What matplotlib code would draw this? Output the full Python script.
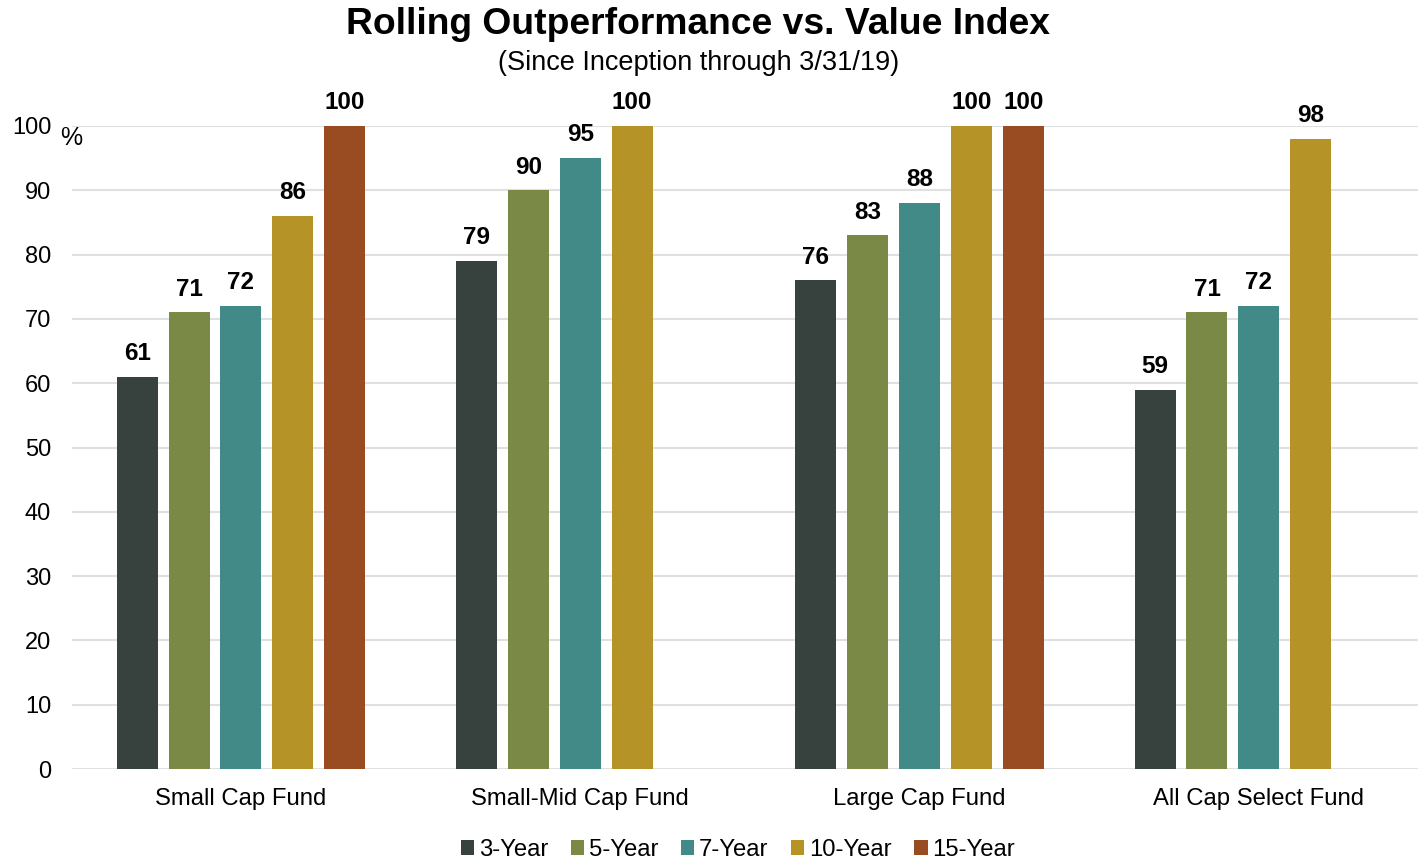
import numpy as np
import matplotlib.pyplot as plt

plt.rcParams['font.family'] = ['Liberation Sans', 'DejaVu Sans']

funds = ["Small Cap Fund", "Small-Mid Cap Fund", "Large Cap Fund", "All Cap Select Fund"]
periods = ["3-Year", "5-Year", "7-Year", "10-Year", "15-Year"]
values = {
    "3-Year": [61, 79, 76, 59],
    "5-Year": [71, 90, 83, 71],
    "7-Year": [72, 95, 88, 72],
    "10-Year": [86, 100, 100, 98],
    "15-Year": [100, None, 100, None],
}
colors = ["#37413d", "#7b8947", "#418a88", "#b59326", "#994b21"]

fig = plt.figure(figsize=(14.18, 8.61), dpi=100)
ax = fig.add_axes([72 / 1418, 92 / 861, 1346 / 1418, 643 / 861])

x = np.arange(len(funds))
slot = 0.153
width = 0.121
for i, (p, c) in enumerate(zip(periods, colors)):
    xs = [xi + (i - 2) * slot for xi, v in zip(x, values[p]) if v is not None]
    vs = [v for v in values[p] if v is not None]
    bars = ax.bar(xs, vs, width, color=c, label=p, zorder=3)
    for b, v in zip(bars, vs):
        ax.text(b.get_x() + b.get_width() / 2, v + 2.6, str(v), ha='center', va='baseline',
                fontsize=17.5, fontweight='bold', clip_on=False)

ax.set_xlim(-0.498, 3.469)
ax.set_ylim(0, 100)
ax.set_yticks(range(0, 101, 10))
ax.set_xticks(x)
ax.set_xticklabels(funds, fontsize=17.2)
ax.tick_params(axis='y', labelsize=17, length=0, pad=15)
ax.tick_params(axis='x', length=0, pad=14)
ax.yaxis.grid(True, color='#dde1e1', linewidth=1.5, zorder=0)
for s in ax.spines.values():
    s.set_visible(False)
ax.text(-0.0085, 98.1, "%", transform=ax.get_yaxis_transform(), ha='left', va='center', fontsize=18)

fig.text(0.4925, 0.972, "Rolling Outperformance vs. Value Index", ha='center', va='center',
         fontsize=26.8, fontweight='bold')
fig.text(0.4925, 0.927, "(Since Inception through 3/31/19)", ha='center', va='center', fontsize=19.5)

ax.legend(loc='center', bbox_to_anchor=(738 / 1418, 11 / 861), bbox_transform=fig.transFigure,
          ncol=5, frameon=False, fontsize=17.2, handlelength=0.55, handleheight=0.55,
          handletextpad=0.2, columnspacing=0.95, borderpad=0.1)

fig.savefig("out.png", dpi=100)
